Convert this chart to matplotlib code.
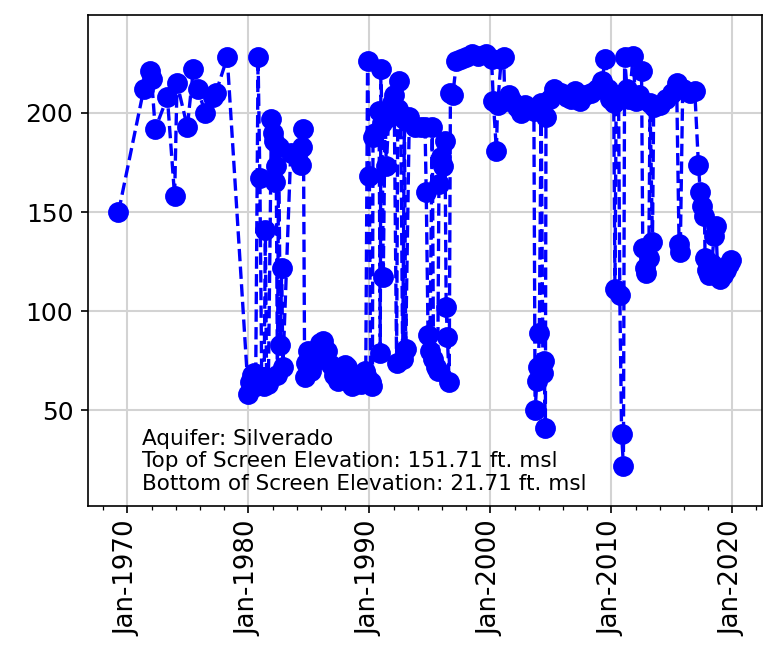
import datetime as dt

import matplotlib
matplotlib.use('Agg')
import matplotlib.pyplot as plt
import matplotlib.dates as mdates


# Datas das medições (anos decimais) e nível da água (ft. msl).
anos = [
    1969.26, 1971.35, 1971.90, 1972.00, 1972.30, 1973.30, 1973.90, 1974.10,
    1974.95, 1975.45, 1975.80, 1976.45, 1977.10, 1977.30, 1978.25,
    1980.00, 1980.10, 1980.30, 1980.45, 1980.60, 1980.80, 1980.95, 1981.10,
    1981.30, 1981.40, 1981.50, 1981.65, 1981.90, 1982.00, 1982.10, 1982.20,
    1982.30, 1982.40, 1982.50, 1982.65, 1982.75, 1982.85, 1983.50, 1984.00,
    1984.35, 1984.45, 1984.55, 1984.65, 1984.75, 1984.90, 1985.20, 1985.50,
    1985.90, 1986.20, 1986.50, 1986.80, 1987.10, 1987.40, 1987.70, 1988.00,
    1988.15, 1988.30, 1988.60, 1989.00, 1989.30, 1989.60, 1989.70,
    1989.85, 1990.00, 1990.10, 1990.25, 1990.30, 1990.50, 1990.80, 1990.90,
    1990.95, 1991.05, 1991.15, 1991.30, 1991.40, 1991.60, 1991.90, 1992.05,
    1992.25, 1992.35, 1992.45, 1992.60, 1992.75, 1992.90, 1993.00, 1993.30,
    1993.80, 1994.25, 1994.60, 1994.70, 1994.85, 1995.00, 1995.20, 1995.30,
    1995.50, 1995.65, 1995.75, 1995.95, 1996.10, 1996.25, 1996.35, 1996.45,
    1996.60, 1996.70, 1996.90, 1997.20, 1997.60, 1998.00, 1998.50, 1999.00,
    1999.60, 2000.10, 2000.25, 2000.50, 2000.60, 2000.90, 2001.10, 2001.20,
    2001.50, 2001.80, 2002.20, 2002.50, 2002.90, 2003.30, 2003.60, 2003.70,
    2003.85, 2003.95, 2004.05, 2004.20, 2004.35, 2004.45, 2004.55, 2004.60,
    2004.90, 2005.30, 2005.80, 2006.30, 2006.70, 2007.00, 2007.40, 2007.80,
    2008.30, 2008.80, 2009.20, 2009.50, 2009.70, 2009.90, 2010.20, 2010.30,
    2010.40, 2010.60, 2010.70, 2010.85, 2011.00, 2011.10, 2011.30, 2011.50,
    2011.80, 2012.00, 2012.30, 2012.50, 2012.60, 2012.75, 2012.90, 2013.10,
    2013.20, 2013.40, 2013.50, 2014.00, 2014.50, 2015.00, 2015.40, 2015.60,
    2015.70, 2015.90, 2016.50, 2016.90, 2017.20, 2017.35, 2017.50, 2017.70,
    2017.75, 2017.90, 2018.10, 2018.30, 2018.50, 2018.65, 2018.80, 2018.95,
    2019.20, 2019.50, 2019.70, 2019.90,
]

niveis = [
    150, 212, 221, 217, 192, 208, 158, 215,
    193, 222, 212, 200, 208, 210, 228,
    58, 64, 68, 69, 62, 228, 167, 66,
    62, 141, 64, 63, 197, 190, 186, 165,
    173, 68, 183, 83, 122, 72, 180, 178,
    174, 183, 192, 67, 74, 80, 70, 75,
    84, 85, 80, 73, 68, 65, 69, 73,
    72, 64, 62, 64, 63, 70, 68,
    226, 168, 64, 62, 188, 190, 201, 79,
    222, 195, 117, 200, 173, 198, 205, 209,
    74, 202, 216, 199, 76, 197, 81, 198,
    193, 193, 193, 160, 88, 80, 193, 76,
    72, 70, 164, 178, 173, 186, 102, 87,
    64, 210, 209, 226, 227, 228, 230, 229,
    230, 227, 206, 181, 204, 227, 228, 206,
    209, 206, 203, 200, 204, 202, 201, 50,
    65, 72, 89, 205, 69, 75, 41, 198,
    207, 212, 210, 208, 207, 211, 206, 209,
    210, 212, 216, 227, 212, 207, 205, 111,
    207, 209, 108, 38, 22, 228, 212, 207,
    229, 206, 209, 221, 132, 122, 119, 127,
    205, 135, 203, 204, 207, 210, 215, 134,
    130, 212, 210, 211, 174, 160, 153, 148,
    127, 121, 118, 124, 138, 143, 118, 116,
    118, 121, 124, 126,
]

info = ['Aquifer: Silverado',
        'Top of Screen Elevation: 151.71 ft. msl',
        'Bottom of Screen Elevation: 21.71 ft. msl']


def ano_para_data(a):
    ano = int(a)
    return dt.datetime(ano, 1, 1) + dt.timedelta(days=(a - ano) * 365.25)


datas = [ano_para_data(a) for a in anos]

fig = plt.figure(figsize=(764 / 150, 647 / 150), dpi=150)
ax = fig.add_axes([0.115, 0.218, 0.882, 0.759])

ax.plot(datas, niveis, '--o', color='blue', markersize=9, linewidth=1.6)

ax.xaxis.set_major_locator(mdates.YearLocator(10))
ax.xaxis.set_minor_locator(mdates.YearLocator(2))
ax.xaxis.set_major_formatter(mdates.DateFormatter('%b-%Y'))
ax.set_ylim(1.7, 249.5)
ax.set_yticks([50, 100, 150, 200])
ax.tick_params(axis='x', labelrotation=90, labelsize=12.5)
ax.tick_params(axis='y', labelsize=12)
ax.grid(color='lightgray', linewidth=1)
ax.set_axisbelow(True)

ax.text(0.081, 0.025, '\n'.join(info), transform=ax.transAxes,
        fontsize=10.3, va='bottom', ha='left', linespacing=1.15)

plt.savefig('out.png', dpi=150)
